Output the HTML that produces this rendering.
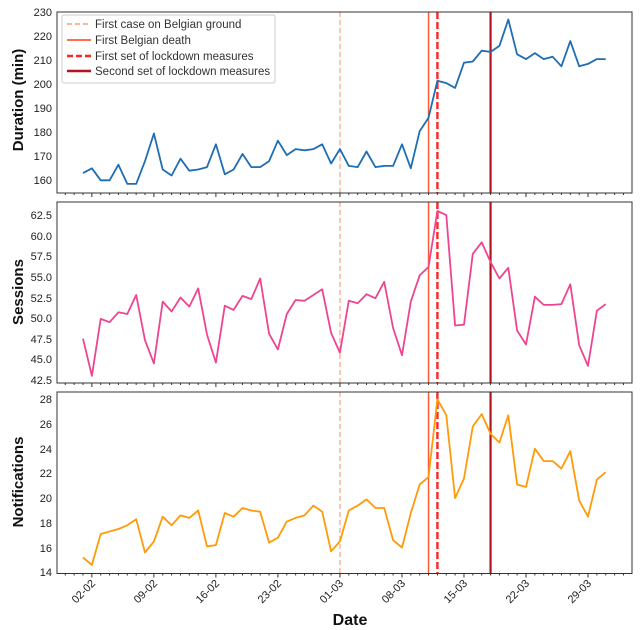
<!DOCTYPE html>
<html><head><meta charset="utf-8"><style>
html,body{margin:0;padding:0;background:#fff;}
svg{display:block;font-family:"Liberation Sans","DejaVu Sans",sans-serif;}
</style></head><body>
<svg id="s" width="640" height="630" viewBox="0 0 640 630" xmlns="http://www.w3.org/2000/svg">
<g font-size="11" fill="#222" text-anchor="end">
<text x="52" y="16">230</text><text x="52" y="40">220</text><text x="52" y="64">210</text><text x="52" y="88">200</text><text x="52" y="112">190</text><text x="52" y="136">180</text><text x="52" y="160">170</text><text x="52" y="184">160</text>
<text x="52" y="219">62.5</text><text x="52" y="240">60.0</text><text x="52" y="260">57.5</text><text x="52" y="281">55.0</text><text x="52" y="302">52.5</text><text x="52" y="322">50.0</text><text x="52" y="343">47.5</text><text x="52" y="363">45.0</text><text x="52" y="384">42.5</text>
<text x="52" y="403">28</text><text x="52" y="428">26</text><text x="52" y="453">24</text><text x="52" y="477">22</text><text x="52" y="502">20</text><text x="52" y="527">18</text><text x="52" y="552">16</text><text x="52" y="576">14</text>
</g>
<g font-size="15" font-weight="bold" fill="#111" text-anchor="middle">
<text transform="translate(23,100) rotate(-90)">Duration (min)</text>
<text transform="translate(23,292) rotate(-90)">Sessions</text>
<text transform="translate(23,482) rotate(-90)">Notifications</text>
<text x="350" y="625" font-size="16">Date</text>
</g>
<g font-size="11" fill="#222" text-anchor="end">
<text transform="translate(96,584) rotate(-45)">02-02</text>
<text transform="translate(158,584) rotate(-45)">09-02</text>
<text transform="translate(220,584) rotate(-45)">16-02</text>
<text transform="translate(282,584) rotate(-45)">23-02</text>
<text transform="translate(344,584) rotate(-45)">01-03</text>
<text transform="translate(406,584) rotate(-45)">08-03</text>
<text transform="translate(468,584) rotate(-45)">15-03</text>
<text transform="translate(530,584) rotate(-45)">22-03</text>
<text transform="translate(592,584) rotate(-45)">29-03</text>
</g>
<g id="dyn"></g>
<g>
<rect x="62" y="15" width="213" height="68" fill="#fff" fill-opacity="0.9" stroke="#ccc" rx="2"/>
<line x1="67" y1="24" x2="91" y2="24" stroke="#ffa985" stroke-width="1.8" stroke-dasharray="5,3"/>
<line x1="67" y1="40" x2="91" y2="40" stroke="#ff5a36" stroke-width="1.8"/>
<line x1="67" y1="56" x2="91" y2="56" stroke="#ff2626" stroke-width="2.6" stroke-dasharray="6,3"/>
<line x1="67" y1="71" x2="91" y2="71" stroke="#b3131c" stroke-width="2.4"/>
<g font-size="11.5" fill="#333">
<text x="95" y="28">First case on Belgian ground</text>
<text x="95" y="44">First Belgian death</text>
<text x="95" y="60">First set of lockdown measures</text>
<text x="95" y="75">Second set of lockdown measures</text>
</g>
</g>
</svg>
<script>
var D=[163,165,160,160,166.5,158.5,158.5,168,179.5,164.5,162,169,164,164.5,165.5,175,162.5,164.5,171,165.5,165.5,168,176.5,170.5,173,172.5,173,175,167,173,166,165.5,172,165.5,166,166,175,165,180.5,186,201.5,200.5,198.5,209,209.5,214,213.5,216,227,212.5,210.5,213,210.5,211.5,207.5,218,207.5,208.5,210.5,210.5];
var S=[47.5,43,49.9,49.5,50.7,50.5,52.8,47.3,44.5,52,50.8,52.5,51.4,53.6,48,44.6,51.5,51,52.7,52.3,54.8,48.1,46.2,50.5,52.2,52.1,52.8,53.5,48.2,45.8,52.1,51.8,52.9,52.4,54.4,48.8,45.5,52,55.2,56.2,63,62.5,49.1,49.2,57.8,59.2,56.8,54.8,56.1,48.5,46.8,52.6,51.6,51.6,51.7,54.1,46.7,44.2,50.9,51.7];
var N=[15.2,14.6,17.1,17.3,17.5,17.8,18.3,15.6,16.5,18.5,17.8,18.6,18.4,19,16.1,16.2,18.8,18.5,19.2,19,18.9,16.4,16.8,18.1,18.4,18.6,19.4,18.9,15.7,16.5,19,19.4,19.9,19.2,19.2,16.6,16,18.8,21.1,21.7,28,26.7,20,21.6,25.8,26.8,25.2,24.5,26.7,21.1,20.9,24,23,23,22.4,23.8,19.8,18.5,21.5,22.1];
function X(d){return 83+d*8.86;}
var h='';
var panels=[{t:12,b:193,y0:160,p0:180.3,k:2.4,data:D,c:'#1f6db5'},{t:202,b:383,y0:45,p0:359.3,k:8.24,data:S,c:'#ee4592'},{t:392,b:573.5,y0:14,p0:572.3,k:12.36,data:N,c:'#ff9a0a'}];
panels.forEach(function(p){
 h+='<line x1="'+X(29)+'" y1="'+p.t+'" x2="'+X(29)+'" y2="'+p.b+'" stroke="#ffa985" stroke-width="1.3" stroke-dasharray="5,3"/>';
 h+='<line x1="'+X(39)+'" y1="'+p.t+'" x2="'+X(39)+'" y2="'+p.b+'" stroke="#ff5a36" stroke-width="1.5"/>';
 h+='<line x1="'+X(40)+'" y1="'+p.t+'" x2="'+X(40)+'" y2="'+p.b+'" stroke="#ff2626" stroke-width="2.4" stroke-dasharray="7,3"/>';
 h+='<line x1="'+X(46)+'" y1="'+p.t+'" x2="'+X(46)+'" y2="'+p.b+'" stroke="#b3131c" stroke-width="2.2"/>';
 var pts=p.data.map(function(v,i){return X(i).toFixed(1)+','+(p.p0-(v-p.y0)*p.k).toFixed(1);}).join(' ');
 h+='<polyline points="'+pts+'" fill="none" stroke="'+p.c+'" stroke-width="1.8" stroke-linejoin="round"/>';
 h+='<rect x="57" y="'+p.t+'" width="575" height="'+(p.b-p.t)+'" fill="none" stroke="#333" stroke-width="1"/>';
 for(var d=-3;d<=62;d++){var x=X(d);if(x<58||x>631)continue;var maj=((d-1)%7===0);
  h+='<line x1="'+x+'" y1="'+p.b+'" x2="'+x+'" y2="'+(p.b+(maj?4:2))+'" stroke="#333" stroke-width="1"/>';}
});
document.getElementById('dyn').innerHTML=h;
</script>
</body></html>
